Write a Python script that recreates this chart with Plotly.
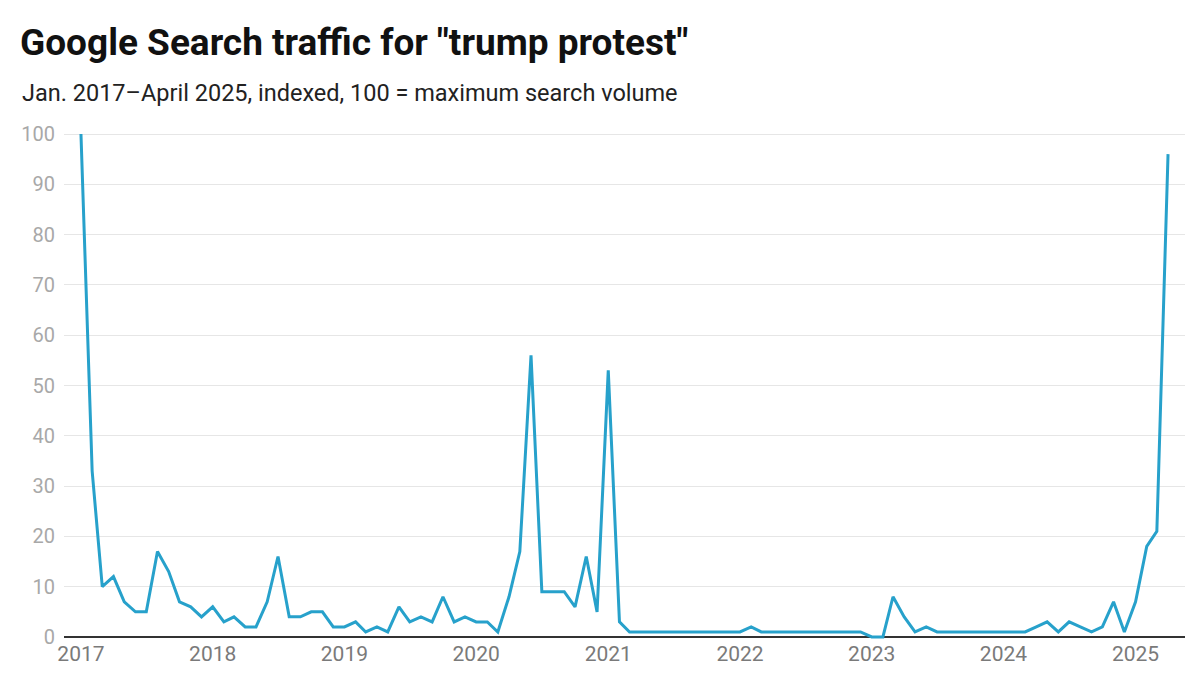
import pandas as pd
import plotly.graph_objects as go

# monthly index, Jan 2017 - Apr 2025
months = pd.date_range("2017-01-01", "2025-04-01", freq="MS")
interest = [
    100, 33, 10, 12, 7, 5, 5, 17, 13, 7, 6, 4,      # 2017
    6, 3, 4, 2, 2, 7, 16, 4, 4, 5, 5, 2,            # 2018
    2, 3, 1, 2, 1, 6, 3, 4, 3, 8, 3, 4,             # 2019
    3, 3, 1, 8, 17, 56, 9, 9, 9, 6, 16, 5,          # 2020
    53, 3, 1, 1, 1, 1, 1, 1, 1, 1, 1, 1,            # 2021
    1, 2, 1, 1, 1, 1, 1, 1, 1, 1, 1, 1,             # 2022
    0, 0, 8, 4, 1, 2, 1, 1, 1, 1, 1, 1,             # 2023
    1, 1, 1, 2, 3, 1, 3, 2, 1, 2, 7, 1,             # 2024
    7, 18, 21, 96,                                  # 2025
]

year_ticks = [f"{y}-01-01" for y in range(2017, 2026)]
year_labels = [str(y) for y in range(2017, 2026)]
y_ticks = list(range(0, 101, 10))

W, H = 1192, 678  # page body adds an 8px margin

fig = go.Figure()
fig.add_trace(go.Scatter(
    x=months, y=interest, mode="lines",
    line=dict(color="#27a1cb", width=3),
    hoverinfo="x+y",
))

fig.update_layout(
    width=W, height=H,
    margin=dict(l=56, r=15, t=123, b=47),
    paper_bgcolor="white", plot_bgcolor="white",
    font=dict(family="Roboto", color="#999999"),
    showlegend=False,
    title=dict(
        text='<b>Google Search traffic for "trump protest"</b>',
        x=12 / W, xref="container", xanchor="left",
        y=1 - 34 / H, yref="container", yanchor="middle",
        font=dict(family="Roboto", size=37, color="#111111"),
    ),
    annotations=[dict(
        text="Jan. 2017\u2013April 2025, indexed, 100 = maximum search volume",
        xref="paper", yref="paper", x=-44 / (W - 71), y=1 + 38 / (H - 170),
        xanchor="left", yanchor="middle", showarrow=False,
        font=dict(family="Roboto", size=23.5, color="#222222"),
    )],
)

fig.update_xaxes(
    range=["2016-11-15", "2025-05-18"],
    tickvals=year_ticks, ticktext=year_labels,
    showgrid=False, showline=False, zeroline=False,
    tickfont=dict(size=21, color="#7a7a7a"),
    ticks="",
)
fig.update_yaxes(
    range=[-0.4, 100.6],
    tickvals=y_ticks,
    showgrid=True, gridcolor="#e6e6e6", gridwidth=1,
    zeroline=True, zerolinecolor="#333333", zerolinewidth=1.5,
    showline=False,
    tickfont=dict(size=20, color="#a8a8a8"),
    ticklabelstandoff=8,
)

fig.write_html("out.html")
